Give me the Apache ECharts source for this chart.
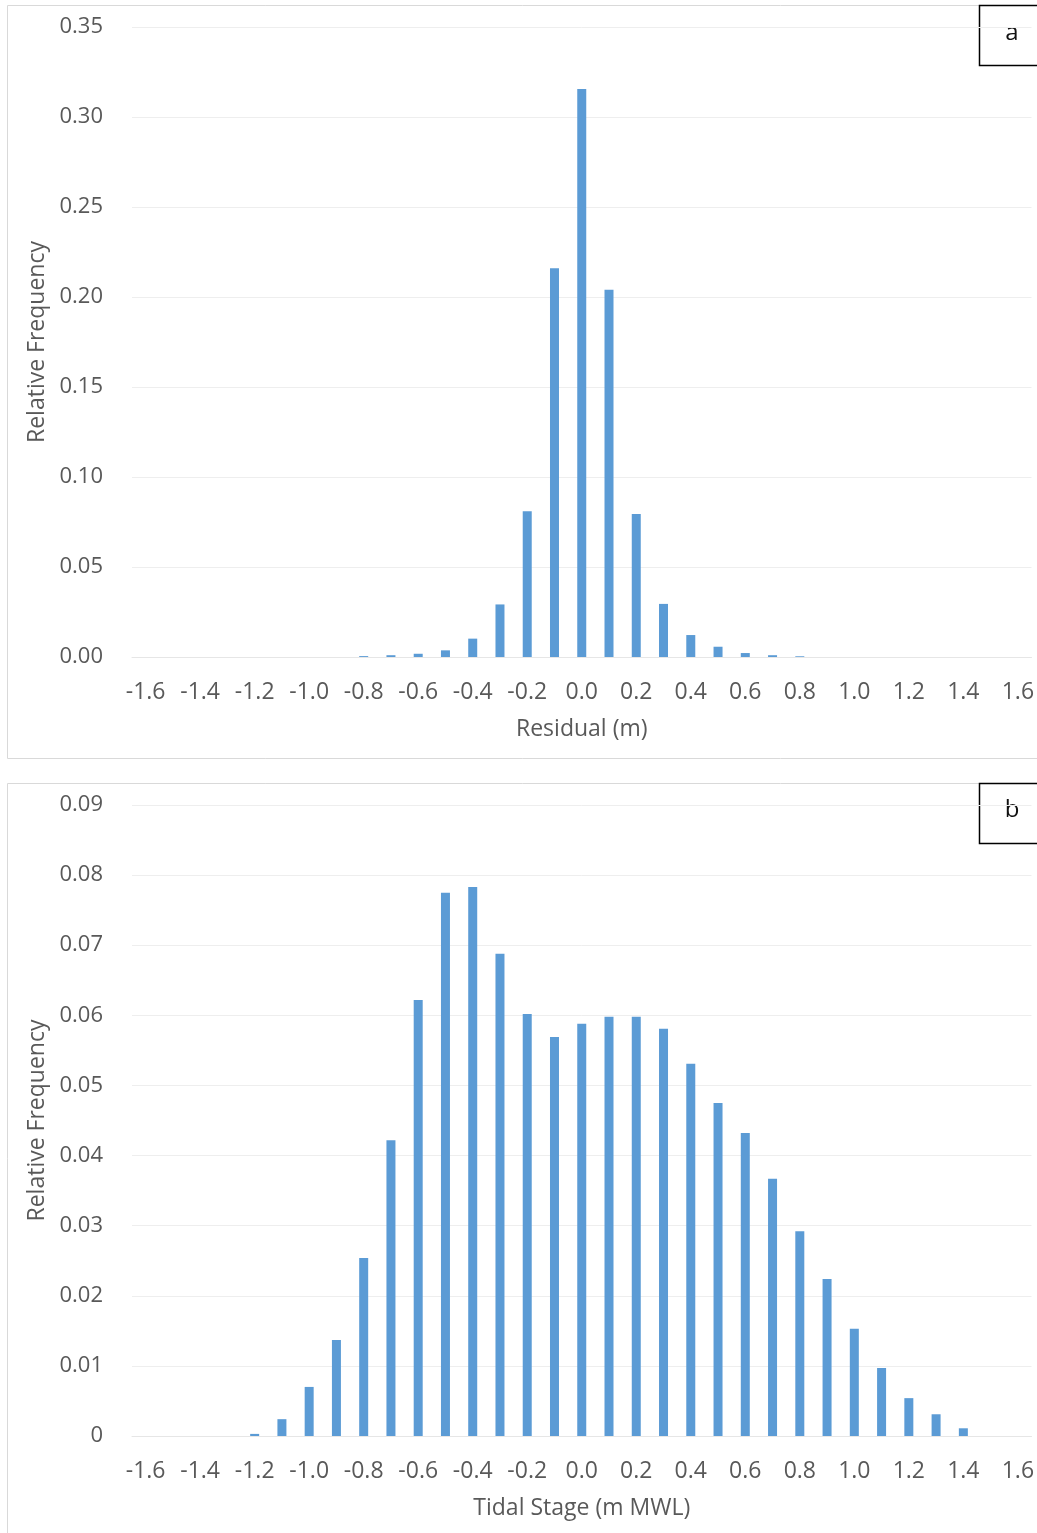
<!DOCTYPE html>
<html>
<head>
<meta charset="utf-8">
<script src="https://cdn.jsdelivr.net/npm/echarts@6/dist/echarts.min.js"></script>
<style>
  html, body { margin: 0; padding: 0; background: #fff; }
  #chart { width: 1037px; height: 1533px; }
</style>
</head>
<body>
<div id="chart"></div>
<script>
// Bin centres (m), -1.6 .. 1.6 step 0.1
var bins = ['-1.6', '-1.5', '-1.4', '-1.3', '-1.2', '-1.1', '-1.0', '-0.9', '-0.8', '-0.7', '-0.6',
    '-0.5', '-0.4', '-0.3', '-0.2', '-0.1', '0.0', '0.1', '0.2', '0.3', '0.4', '0.5', '0.6',
    '0.7', '0.8', '0.9', '1.0', '1.1', '1.2', '1.3', '1.4', '1.5', '1.6'];

// Panel a - residual
var residualFreq = [0, 0, 0, 0, 0, 0, 0, 0, 0.0005, 0.001, 0.0018,
    0.0037, 0.0102, 0.0292, 0.081, 0.216, 0.3155, 0.204, 0.0795, 0.0295, 0.0122, 0.0057, 0.0022,
    0.001, 0.0004, 0, 0, 0, 0, 0, 0, 0, 0];

// Panel b - tidal stage
var stageFreq = [0, 0, 0, 0, 0.0003, 0.0024, 0.007, 0.0137, 0.0254, 0.0422, 0.0622,
    0.0775, 0.0783, 0.0688, 0.0602, 0.0569, 0.0588, 0.0598, 0.0598, 0.0581, 0.0531, 0.0475, 0.0432,
    0.0367, 0.0292, 0.0224, 0.0153, 0.0097, 0.0054, 0.0031, 0.0011, 0, 0];

var textColor = '#595959';
var fontFamily = '"Open Sans", sans-serif';
var fontSize = 23;
var barColor = '#5b9bd5';

var chart = echarts.init(document.getElementById('chart'));

function xAxisFor(gridIndex, name) {
    return {
        type: 'category',
        gridIndex: gridIndex,
        data: bins,
        name: name,
        nameLocation: 'middle',
        nameGap: 61,
        nameTextStyle: { color: textColor, fontSize: fontSize, fontFamily: fontFamily },
        axisTick: { show: false },
        axisLine: { lineStyle: { color: '#e6e6e6' } },
        axisLabel: { interval: 1, color: textColor, fontSize: fontSize, fontFamily: fontFamily, margin: 24 },
        splitLine: { show: false }
    };
}

function yAxisFor(gridIndex, max, interval, fmt) {
    return {
        type: 'value',
        gridIndex: gridIndex,
        min: 0,
        max: max,
        interval: interval,
        name: 'Relative Frequency',
        nameLocation: 'middle',
        nameGap: 82,
        nameTextStyle: { color: textColor, fontSize: fontSize, fontFamily: fontFamily },
        axisLine: { show: false },
        axisTick: { show: false },
        axisLabel: { color: textColor, fontSize: fontSize - 1, fontFamily: fontFamily, margin: 29, formatter: fmt },
        splitLine: { lineStyle: { color: '#eeeeee' } }
    };
}

chart.setOption({
    animation: false,
    textStyle: { fontFamily: fontFamily },
    graphic: [
        { type: 'rect', shape: { x: 7.5, y: 5.5, width: 1040, height: 753 },
          style: { fill: 'none', stroke: '#d9d9d9', lineWidth: 1 } },
        { type: 'rect', shape: { x: 7.5, y: 783.5, width: 1040, height: 760 },
          style: { fill: 'none', stroke: '#d9d9d9', lineWidth: 1 } },
        { type: 'rect', shape: { x: 979.5, y: 5.5, width: 70, height: 60 },
          style: { fill: '#fff', stroke: '#000', lineWidth: 1.5 } },
        { type: 'text', x: 1012, y: 33,
          style: { text: 'a', fill: '#111', fontSize: 24, fontFamily: fontFamily, align: 'center', verticalAlign: 'middle' } },
        { type: 'rect', shape: { x: 979.5, y: 783.5, width: 70, height: 60 },
          style: { fill: '#fff', stroke: '#000', lineWidth: 1.5 } },
        { type: 'text', x: 1012, y: 810,
          style: { text: 'b', fill: '#111', fontSize: 24, fontFamily: fontFamily, align: 'center', verticalAlign: 'middle' } }
    ],
    grid: [
        { left: 132, right: 3, top: 27, height: 630 },
        { left: 132, right: 3, top: 805, height: 631 }
    ],
    xAxis: [
        xAxisFor(0, 'Residual (m)'),
        xAxisFor(1, 'Tidal Stage (m MWL)')
    ],
    yAxis: [
        yAxisFor(0, 0.35, 0.05, function (v) { return v.toFixed(2); }),
        yAxisFor(1, 0.09, 0.01, function (v) { return v === 0 ? '0' : v.toFixed(2); })
    ],
    series: [
        {
            type: 'bar', xAxisIndex: 0, yAxisIndex: 0,
            data: residualFreq, barWidth: 9,
            itemStyle: { color: barColor }
        },
        {
            type: 'bar', xAxisIndex: 1, yAxisIndex: 1,
            data: stageFreq, barWidth: 9,
            itemStyle: { color: barColor }
        }
    ]
});
</script>
</body>
</html>
